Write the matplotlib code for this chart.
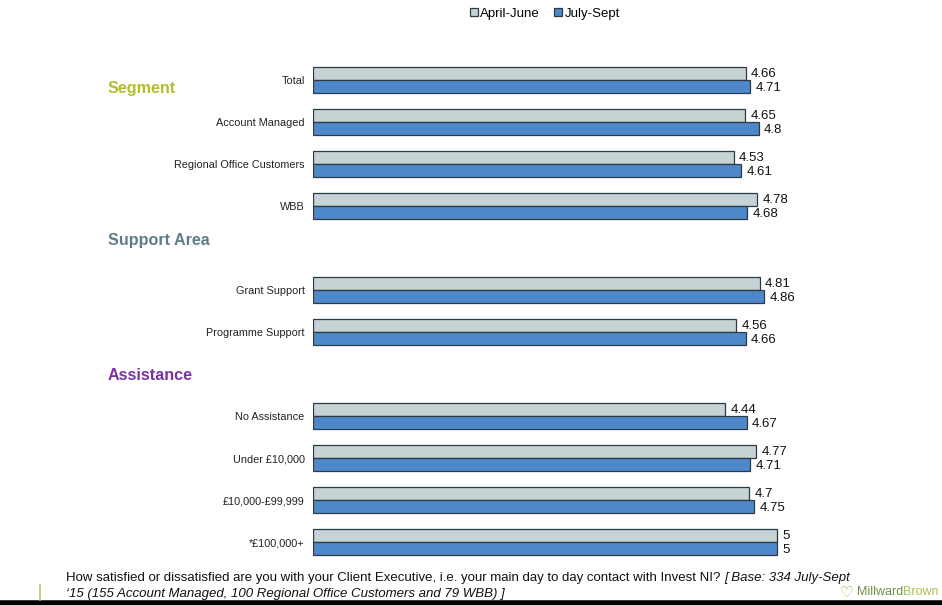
import matplotlib
matplotlib.use("Agg")
import matplotlib.pyplot as plt
from matplotlib import font_manager
from matplotlib.patches import Patch
import numpy as np

# --- data -------------------------------------------------------------
categories = ["Total", "Account Managed", "Regional Office Customers", "WBB",
              "Grant Support", "Programme Support",
              "No Assistance", "Under £10,000", "£10,000-£99,999", "*£100,000+"]
slots = [0, 1, 2, 3, 5, 6, 8, 9, 10, 11]
april_june = [4.66, 4.65, 4.53, 4.78, 4.81, 4.56, 4.44, 4.77, 4.7, 5]
july_sept = [4.71, 4.8, 4.61, 4.68, 4.86, 4.66, 4.67, 4.71, 4.75, 5]
series_names = ["April-June", "July-Sept"]

sections = ["Segment", "Support Area", "Assistance"]
section_y = [89, 240, 376]          # pixel rows for the section headings
section_colors = ["#B3BE2C", "#5E7D88", "#7A33A6"]

footer_1 = ("How satisfied or dissatisfied are you with your Client Executive, "
            "i.e. your main day to day contact with Invest NI? ")
footer_1_it = "[ Base: 334 July-Sept"
footer_2 = "‘15 (155 Account Managed, 100 Regional Office Customers and 79 WBB) ]"

# --- fonts ------------------------------------------------------------
names = {f.name for f in font_manager.fontManager.ttflist}
base_font = "Liberation Sans" if "Liberation Sans" in names else "DejaVu Sans"
narrow_font = "Liberation Sans Narrow" if "Liberation Sans Narrow" in names else base_font
plt.rcParams["font.family"] = [base_font, "DejaVu Sans"]

W, H = 942, 605
fig = plt.figure(figsize=(W / 100, H / 100), dpi=100)

# plot area: x from 313px to 870px, y rows 59px..563px
ax = fig.add_axes([313 / W, 1 - 563 / H, 557 / W, 504 / H])
ax.set_xlim(0, 6)
ax.set_ylim(11.5, -0.5)

grey = "#C5D3D5"
blue = "#4E88C8"
edge = "#2B3A45"
bh = 0.32
y = np.array(slots, dtype=float)

ax.barh(y - bh / 2, april_june, height=bh, color=grey, edgecolor=edge, linewidth=0.9)
ax.barh(y + bh / 2, july_sept, height=bh, color=blue, edgecolor=edge, linewidth=0.9)

for yi, a, b in zip(y, april_june, july_sept):
    ax.annotate(f"{a:g}", (a, yi - bh / 2), xytext=(4, -0.8), textcoords="offset points",
                va="center", ha="left", fontsize=9.5, color="#111111")
    ax.annotate(f"{b:g}", (b, yi + bh / 2), xytext=(4, -0.8), textcoords="offset points",
                va="center", ha="left", fontsize=9.5, color="#111111")

ax.set_yticks(y)
ax.set_yticklabels(categories, fontsize=7.8, color="#222222")
ax.tick_params(axis="y", length=0, pad=6)
ax.set_xticks([])
for s in ax.spines.values():
    s.set_visible(False)

# section headings
for name, py, c in zip(sections, section_y, section_colors):
    fig.text(108 / W, 1 - py / H, name, fontsize=11.6, fontweight="bold",
             color=c, ha="left", va="center")

# legend
handles = [Patch(facecolor=grey, edgecolor=edge, linewidth=0.9),
           Patch(facecolor=blue, edgecolor=edge, linewidth=0.9)]
fig.legend(handles, series_names, loc="center", bbox_to_anchor=(545 / W, 1 - 14 / H),
           ncol=2, frameon=False, handlelength=0.55, handleheight=0.55,
           handletextpad=0.2, columnspacing=1.1,
           prop={"family": narrow_font, "size": 9.5})

# footer
fs = 9.5
t1 = fig.text(66 / W, 1 - 578 / H, footer_1, fontsize=fs, family=narrow_font,
              ha="left", va="center", color="#111111")
fig.canvas.draw()
bb = t1.get_window_extent()
fig.text(bb.x1 / W, 1 - 578 / H, footer_1_it, fontsize=fs, family=narrow_font,
         style="italic", ha="left", va="center", color="#111111")
fig.text(66 / W, 1 - 594 / H, footer_2, fontsize=fs, family=narrow_font,
         style="italic", ha="left", va="center", color="#111111")

# brand mark
fig.text(846 / W, 1 - 592 / H, "♡", fontsize=11, color="#8DB63C",
         family="DejaVu Sans", ha="center", va="center", fontweight="bold")
mw = fig.text(857 / W, 1 - 592 / H, "Millward", fontsize=9, color="#6E8F4A",
              ha="left", va="center", family=narrow_font)
fig.canvas.draw()
b2 = mw.get_window_extent()
fig.text(b2.x1 / W, 1 - 592 / H, "Brown", fontsize=9, color="#A9C256",
         ha="left", va="center", family=narrow_font)

# bottom rule and side accent
fig.add_artist(plt.Line2D([0, 1], [2.5 / H, 2.5 / H], color="black", linewidth=4,
                          transform=fig.transFigure))
fig.add_artist(plt.Line2D([40 / W, 40 / W], [5 / H, 20 / H], color="#B7C06A",
                          linewidth=1.2, transform=fig.transFigure))

fig.savefig("out.png", dpi=100)
